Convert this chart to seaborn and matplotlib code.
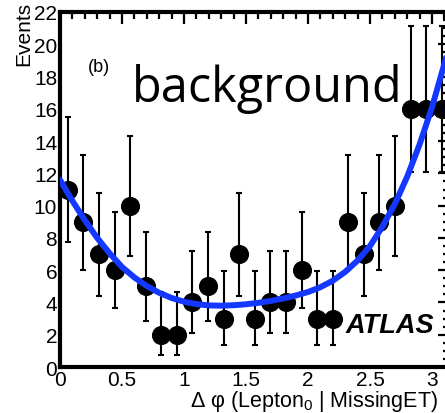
import numpy as np
import pandas as pd
import matplotlib
matplotlib.use("Agg")
import matplotlib.pyplot as plt
import seaborn as sns
from matplotlib.ticker import MultipleLocator

# ---- data ----
n_bins = 25
counts = [11, 9, 7, 6, 10, 5, 2, 2, 4, 5, 3, 7, 3, 4, 4, 6, 3, 3, 9, 7, 9, 10, 16, 16, 16]
err_low = [7.76, 6.03, 4.42, 3.63, 6.9, 2.85, 0.74, 0.74, 2.09, 2.85, 1.38, 4.42, 1.38,
           2.09, 2.09, 3.63, 1.38, 1.38, 6.03, 4.42, 6.03, 6.9, 12.06, 12.06, 12.06]
err_high = [15.5, 13.13, 10.78, 9.58, 14.29, 8.38, 4.65, 4.65, 7.17, 8.38, 5.97, 10.78, 5.97,
            7.17, 7.17, 9.58, 5.97, 5.97, 13.13, 10.78, 13.13, 14.29, 21.15, 21.15, 21.15]

fit_x = [0.0, 0.1, 0.2, 0.3, 0.4, 0.5, 0.6, 0.7, 0.8, 0.9, 1.0, 1.1, 1.2, 1.3, 1.4, 1.5,
         1.6, 1.7, 1.8, 1.9, 2.0, 2.1, 2.2, 2.3, 2.4, 2.5, 2.6, 2.7, 2.8, 2.9, 3.0, 3.1, 3.1416]
fit_y = [11.6, 10.3, 9.1, 8.0, 7.05, 6.2, 5.55, 5.02, 4.6, 4.28, 4.05, 3.9, 3.82, 3.8, 3.83, 3.89,
         3.98, 4.1, 4.25, 4.43, 4.65, 4.95, 5.35, 5.9, 6.6, 7.5, 8.7, 10.1, 11.8, 13.8, 16.1, 18.8, 20.0]

x_ticks = [0, 0.5, 1, 1.5, 2, 2.5, 3]
x_tick_labels = ["0", "0.5", "1", "1.5", "2", "2.5", "3"]
y_ticks = list(range(0, 23, 2))

edges = np.linspace(0, np.pi, n_bins + 1)
centers = 0.5 * (edges[:-1] + edges[1:])
df = pd.DataFrame({"x": centers, "y": counts})
fit_df = pd.DataFrame({"x": fit_x, "y": fit_y})

sns.set_theme(style="white")
plt.rcParams["font.family"] = ["Liberation Sans", "DejaVu Sans"]
plt.rcParams["text.color"] = "black"
plt.rcParams["mathtext.fontset"] = "custom"
plt.rcParams["mathtext.rm"] = "Liberation Sans"
plt.rcParams["mathtext.it"] = "Liberation Sans:italic"
plt.rcParams["mathtext.default"] = "regular"

fig = plt.figure(figsize=(4.45, 4.14), dpi=100)
ax = fig.add_axes([0.1348, 0.111, 0.8755, 0.8576])

yerr = np.array([np.array(counts) - np.array(err_low), np.array(err_high) - np.array(counts)])
ax.errorbar(df["x"], df["y"], yerr=yerr, fmt="none", ecolor="black", elinewidth=1.5,
            capsize=2.5, capthick=1.5, zorder=2)
sns.scatterplot(data=df, x="x", y="y", ax=ax, color="black", s=190, edgecolor="black",
                linewidth=0, zorder=3, legend=False)
sns.lineplot(data=fit_df, x="x", y="y", ax=ax, color="#1438ff", linewidth=4.3, zorder=4,
             legend=False)

ax.set_xlim(0, np.pi)
ax.set_ylim(0, 22)
ax.set_xticks(x_ticks)
ax.set_xticklabels(x_tick_labels)
ax.set_yticks(y_ticks)
ax.xaxis.set_minor_locator(MultipleLocator(0.1))
ax.yaxis.set_minor_locator(MultipleLocator(0.5))
ax.tick_params(which="both", direction="in", top=True, right=True, colors="black",
               labelsize=15, pad=2)
ax.tick_params(which="major", length=8.5, width=1.6)
ax.tick_params(which="minor", length=5, width=1.6)
for s in ax.spines.values():
    s.set_linewidth(3)
    s.set_color("black")
ax.set_xlabel("")
ax.set_ylabel("")

fig.text(0.032, 0.995, "Events", rotation=90, ha="left", va="top", fontsize=15)
fig.text(0.985, 0.018, r"$\Delta$ φ (Lepton$_{0}$ | MissingET)", ha="right", va="baseline",
         fontsize=15.5)
ax.text(0.072, 0.835, "(b)", transform=ax.transAxes, fontsize=13)
ax.text(0.185, 0.749, "background", transform=ax.transAxes, fontsize=35, va="baseline",
        family=["Open Sans", "DejaVu Sans"], fontweight="normal")
ax.text(0.733, 0.100, "ATLAS", transform=ax.transAxes, fontsize=19.5, fontweight="bold",
        fontstyle="italic")

fig.savefig("out.png", dpi=100)
